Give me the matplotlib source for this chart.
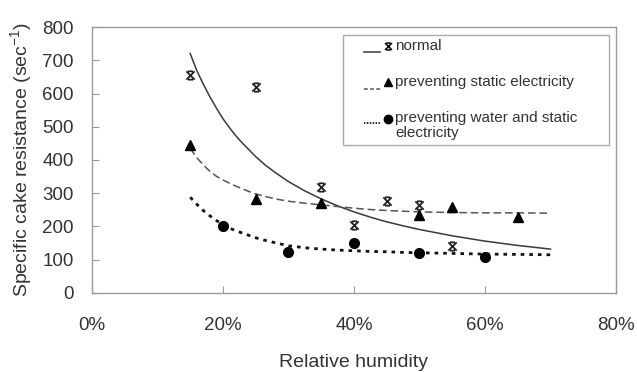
import matplotlib
matplotlib.use("Agg")
import matplotlib.pyplot as plt
from matplotlib.patches import Rectangle
from matplotlib.path import Path
from matplotlib.ticker import FuncFormatter

plt.rcParams['font.family'] = ['Liberation Sans', 'DejaVu Sans']
plt.rcParams['mathtext.fontset'] = 'custom'
plt.rcParams['mathtext.rm'] = 'Liberation Sans'
plt.rcParams['mathtext.it'] = 'Liberation Sans'

# measured points (relative humidity in %, resistance in 1/sec)
normal_x = [15, 25, 35, 40, 45, 50, 55]
normal_y = [655, 620, 320, 205, 278, 265, 140]
static_x = [15, 25, 35, 50, 55, 65]
static_y = [445, 283, 270, 235, 258, 228]
water_x = [20, 30, 40, 50, 60]
water_y = [201, 122, 151, 121, 107]

# trend curves
curve_x = [15, 16, 17, 18, 19, 20, 21, 22, 23, 24, 25, 26.5, 28, 30, 32.5, 35, 37.5,
           40, 42.5, 45, 47.5, 50, 55, 60, 65, 70]
normal_fit = [720, 669, 628, 590, 556, 524, 497, 472, 450, 430, 410, 384, 362, 335, 307,
              283, 262, 244, 228, 214, 202, 191, 172, 156, 143, 132]
static_fit = [435, 407, 385, 366, 351, 340, 330, 321, 313, 305, 298, 290, 283, 276, 270,
              265, 260, 255, 251, 248, 246, 244, 242, 241, 241, 240]
water_fit = [288, 267, 248, 232, 218, 205, 195, 187, 180, 173, 166, 158, 151, 142, 136,
             132, 129, 127, 125, 124, 122, 121, 119, 117, 116, 115]

x_ticks = [0, 20, 40, 60, 80]
y_ticks = [0, 100, 200, 300, 400, 500, 600, 700, 800]

txt = '#333333'
grey = '#9a9a9a'

# X with bars on top and bottom, like the spreadsheet star marker
star = Path([(-1, -1), (1, 1), (-1, 1), (1, -1), (-0.6, 1), (0.6, 1), (-0.6, -1), (0.6, -1)],
            [Path.MOVETO, Path.LINETO, Path.MOVETO, Path.LINETO,
             Path.MOVETO, Path.LINETO, Path.MOVETO, Path.LINETO])

fig = plt.figure(figsize=(6.37, 3.72), dpi=100)
ax = fig.add_axes([0.1444, 0.2124, 0.8226, 0.715])

ax.plot(curve_x, normal_fit, color='#3a3a3a', lw=1.1)
ax.plot(curve_x, static_fit, color='#555555', lw=1.1, dashes=(5, 2.5))
ax.plot(curve_x, water_fit, color='#111111', lw=2.0, dashes=(1.3, 1.8))

ax.plot(normal_x, normal_y, ls='none', marker=star, ms=6, mew=1.3, color='#222222')
ax.plot(static_x, static_y, ls='none', marker='^', ms=7, color='black')
ax.plot(water_x, water_y, ls='none', marker='o', ms=7, color='black')

ax.set_xlim(0, 80)
ax.set_ylim(0, 800)
ax.set_xticks(x_ticks)
ax.set_yticks(y_ticks)
ax.xaxis.set_major_formatter(FuncFormatter(lambda v, p: f"{v:.0f}%"))

for s in ax.spines.values():
    s.set_color(grey)
    s.set_linewidth(1.0)
ax.tick_params(direction='in', length=5, color=grey, labelcolor=txt, labelsize=13.5)
ax.tick_params(axis='x', pad=17)
ax.tick_params(axis='y', pad=13)

ax.set_xlabel('Relative humidity', fontsize=14, color=txt, labelpad=15)
ax.set_ylabel('Specific cake resistance (sec$^{-1}$)', fontsize=14, color=txt, labelpad=6)

# hand-built legend box
def ax_pt(px, py):
    return (px - 92) / 524, (293 - py) / 266

x0, y0 = ax_pt(343, 145)
x1, y1 = ax_pt(609, 35)
ax.add_patch(Rectangle((x0, y0), x1 - x0, y1 - y0, transform=ax.transAxes,
                       fill=False, edgecolor='#aaaaaa', lw=1.0))

rows = [
    (52, 46, dict(color='#3a3a3a', lw=1.1), dict(marker=star, ms=5, mew=1.1), 'normal'),
    (89, 82, dict(color='#555555', lw=1.1, dashes=(2.5, 1.5)), dict(marker='^', ms=6), 'preventing static electricity'),
    (123, 119, dict(color='#111111', lw=1.3, dashes=(0.8, 0.8)), dict(marker='o', ms=6),
     'preventing water and static\nelectricity'),
]
for ly, my, lstyle, mstyle, label in rows:
    a, b = ax_pt(364, ly)
    c, _ = ax_pt(380, ly)
    ax.plot([a, c], [b, b], transform=ax.transAxes, **lstyle)
    mx, mmy = ax_pt(388, my)
    ax.plot([mx], [mmy], transform=ax.transAxes, ls='none', color='black', **mstyle)
    tx, ty = ax_pt(395, my)
    ax.text(tx, ty, label, transform=ax.transAxes, fontsize=11, color=txt,
            va='top' if '\n' in label else 'center', linespacing=1.05)

# adjust multi-line label anchor
ax.texts[-1].set_position(ax_pt(395, 111))

fig.savefig('out.png', dpi=100)
